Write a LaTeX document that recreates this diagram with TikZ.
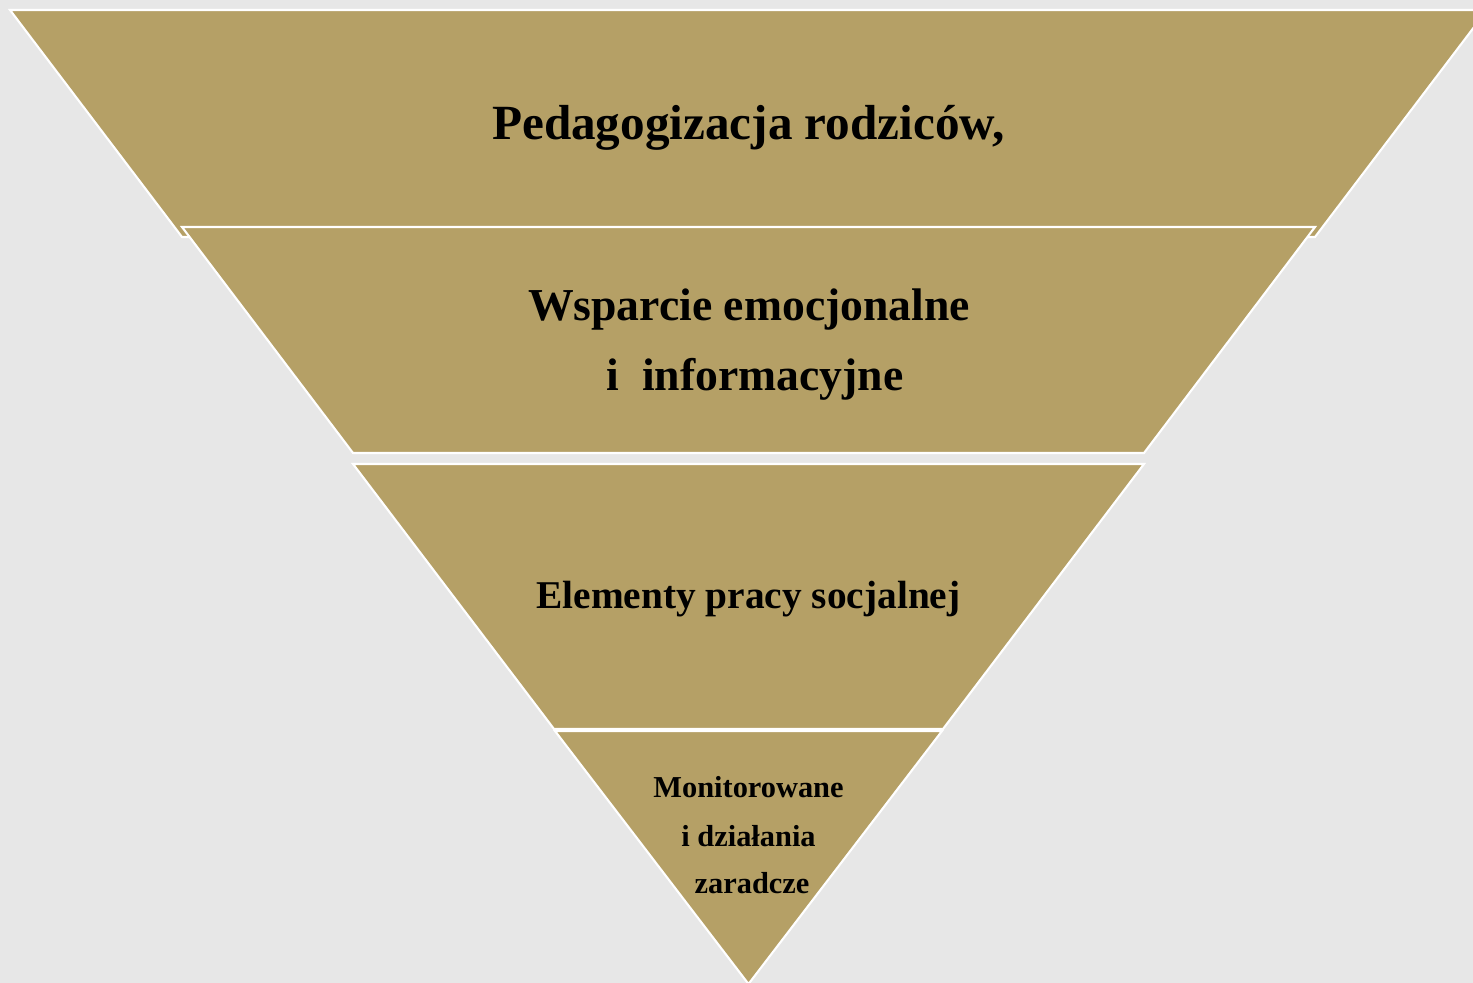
\documentclass[tikz,border=0pt]{standalone}
\usepackage{fontspec}
\setmainfont{Liberation Serif}
\definecolor{bgc}{HTML}{E7E7E7}
\definecolor{tan}{HTML}{B5A066}
\tikzset{
  band/.style={fill=tan, draw=white, line width=1.2pt, line join=miter},
  lbl/.style={anchor=base, inner sep=0pt, text=black, font=\bfseries},
}
\begin{document}
\begin{tikzpicture}[x=0.02cm, y=-0.02cm]
\fill[bgc] (0,0) rectangle (1473,983);
\useasboundingbox (0,0) rectangle (1473,983);
\clip (0,0) rectangle (1473,983);
% bands
\draw[band] (10,10) -- (1487,10) -- (1315,237) -- (182,237) -- cycle;
\draw[band] (182,227) -- (1315,227) -- (1144,453) -- (353,453) -- cycle;
\draw[band] (353,464) -- (1144,464) -- (943,729) -- (554,729) -- cycle;
\draw[band] (555,731) -- (942,731) -- (748.5,984) -- cycle;
% labels
\node[lbl, font=\bfseries\fontsize{28}{34}\selectfont] (t1) at (748.5,140) {Pedagogizacja rodziców,};
\node[lbl, font=\bfseries\fontsize{26}{31}\selectfont] (t2a) at (749,320) {Wsparcie emocjonalne};
\node[lbl, font=\bfseries\fontsize{26}{31}\selectfont] (t2b) at (755,390) {i\ \ informacyjne};
\node[lbl, font=\bfseries\fontsize{22.4}{27}\selectfont] (t3) at (748.5,608) {Elementy pracy socjalnej};
\node[lbl, font=\bfseries\fontsize{17.3}{21}\selectfont] (t4a) at (748.5,797) {Monitorowane};
\node[lbl, font=\bfseries\fontsize{17.3}{21}\selectfont] (t4b) at (748.5,846) {i działania};
\node[lbl, font=\bfseries\fontsize{17.3}{21}\selectfont] (t4c) at (752,893) {zaradcze};
\end{tikzpicture}
\end{document}
